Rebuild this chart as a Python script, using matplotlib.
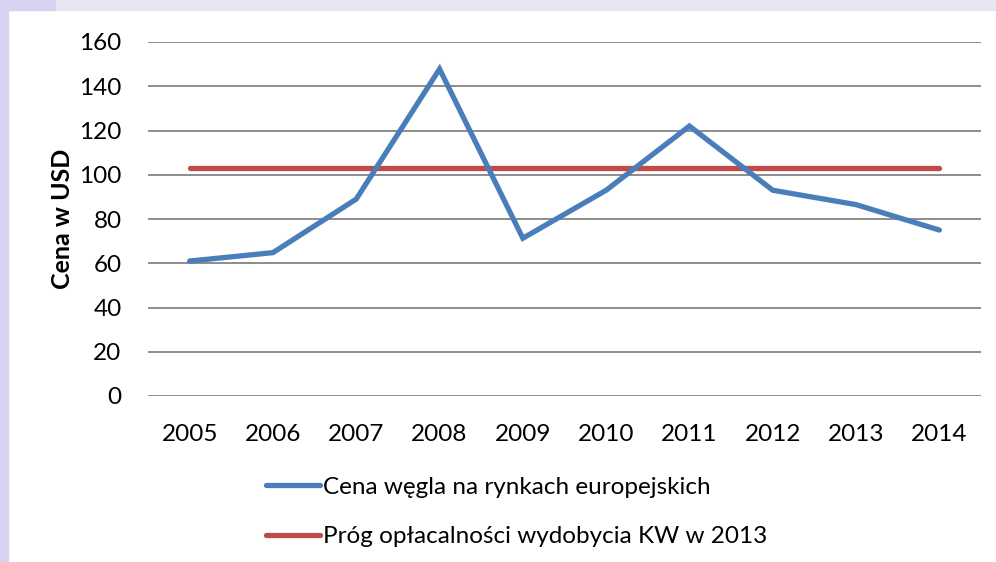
import matplotlib
matplotlib.use("Agg")
import matplotlib.pyplot as plt
from matplotlib.patches import Rectangle
from matplotlib.lines import Line2D

years = ["2005", "2006", "2007", "2008", "2009", "2010", "2011", "2012", "2013", "2014"]
coal_price = [61, 64.8, 89, 147.8, 71.3, 93, 122, 93, 86.5, 75]
threshold = [103] * len(years)
yticks = [0, 20, 40, 60, 80, 100, 120, 140, 160]

plt.rcParams['font.family'] = ['Lato', 'DejaVu Sans']

fig = plt.figure(figsize=(9.96, 5.62), dpi=100)
fig.patch.set_facecolor('white')
W, H = 996, 562
# frame decorations
fig.patches.append(Rectangle((0, 0), 8 / W, 1, transform=fig.transFigure, color='#d5d3f0', zorder=0))
fig.patches.append(Rectangle((0, 1 - 10 / H), 1, 10 / H, transform=fig.transFigure, color='#e7e7f3', zorder=0))
fig.patches.append(Rectangle((0, 1 - 10 / H), 55 / W, 10 / H, transform=fig.transFigure, color='#d5d3f0', zorder=0))

ax = fig.add_axes([148 / W, 166 / H, 833 / W, 354 / H])
x = list(range(len(years)))
ax.plot(x, coal_price, color='#4a7ebb', lw=3.8, solid_capstyle='round', solid_joinstyle='miter', zorder=3)
ax.plot(x, threshold, color='#be4b48', lw=3.8, solid_capstyle='round', zorder=2)

ax.set_xlim(-0.5, len(years) - 0.5)
ax.set_ylim(0, 160)
ax.set_yticks(yticks)
ax.set_yticklabels([str(v) for v in yticks])
ax.set_xticks(x)
ax.set_xticklabels(years)
ax.yaxis.grid(True, color='#8c8c8c', lw=1.4)
ax.set_axisbelow(True)
for s in ax.spines.values():
    s.set_visible(False)
ax.tick_params(axis='both', length=0, labelsize=17.5, colors='black')
ax.tick_params(axis='y', pad=19)
ax.tick_params(axis='x', pad=20)
ax.set_ylabel('Cena w USD', fontsize=18, fontweight='bold', labelpad=4)

handles = [Line2D([], [], color='#4a7ebb', lw=3.8, solid_capstyle='round'),
           Line2D([], [], color='#be4b48', lw=3.8, solid_capstyle='round')]
labels = ['Cena węgla na rynkach europejskich', 'Próg opłacalności wydobycia KW w 2013']
fig.legend(handles, labels, loc='center left', bbox_to_anchor=(259 / W, 1 - 512 / H),
           frameon=False, fontsize=17.5, handlelength=2.2, handletextpad=0.15,
           labelspacing=1.18, borderaxespad=0, borderpad=0.3)

fig.savefig('out.png', dpi=100)
